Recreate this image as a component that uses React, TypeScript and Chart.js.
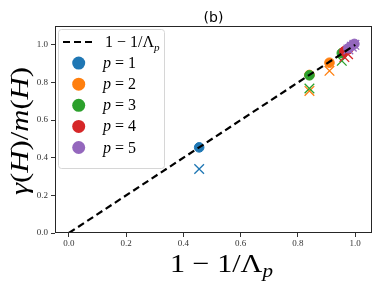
import React, { useEffect, useRef } from 'react';
import { Chart, registerables } from 'chart.js';

Chart.register(...registerables);

const COLORS = ['#1f77b4', '#ff7f0e', '#2ca02c', '#d62728', '#9467bd'];
const P_LABELS = ['1', '2', '3', '4', '5'];

// x = 1 - 1/Λ_p ; circles = γ(H)/m(H) ; crosses = second estimate
const p1X = [0.455];
const p1Circle = [0.455];
const p1Cross = [0.34];
const p2X = [0.84, 0.91];
const p2Circle = [0.84, 0.905];
const p2Cross = [0.755, 0.862];
const p3X = [0.84, 0.953];
const p3Circle = [0.838, 0.956];
const p3Cross = [0.768, 0.915];
const p4X = [0.962, 0.975];
const p4Circle = [0.966, 0.976];
const p4Cross = [0.935, 0.95];
const p5X = [0.976, 0.988, 0.997];
const p5Circle = [0.982, 0.995, 1.005];
const p5Cross = [0.975, 0.99, 1.0];

const lineX = [0, 1];
const xTicks = [0, 0.2, 0.4, 0.6, 0.8, 1.0];
const yTicks = [0, 0.2, 0.4, 0.6, 0.8, 1.0];

const SERIES = [
  { x: p1X, c: p1Circle, k: p1Cross },
  { x: p2X, c: p2Circle, k: p2Cross },
  { x: p3X, c: p3Circle, k: p3Cross },
  { x: p4X, c: p4Circle, k: p4Cross },
  { x: p5X, c: p5Circle, k: p5Cross },
];

const SERIF = '"Liberation Serif", "DejaVu Serif", serif';

type Seg = [string, boolean, number?, number?]; // text, italic, scale, baseline shift (em)

function segFont(size: number, italic: boolean) {
  return `${italic ? 'italic ' : ''}${size}px ${SERIF}`;
}

function measureRich(ctx: CanvasRenderingContext2D, segs: Seg[], size: number) {
  let w = 0;
  for (const s of segs) {
    ctx.font = segFont(size * (s[2] ?? 1), s[1]);
    w += ctx.measureText(s[0]).width;
  }
  return w;
}

function drawRich(ctx: CanvasRenderingContext2D, segs: Seg[], x: number, y: number, size: number) {
  let cx = x;
  ctx.textBaseline = 'alphabetic';
  ctx.textAlign = 'left';
  for (const s of segs) {
    const sz = size * (s[2] ?? 1);
    ctx.font = segFont(sz, s[1]);
    ctx.fillText(s[0], cx, y + (s[3] ?? 0) * size);
    cx += ctx.measureText(s[0]).width;
  }
  return cx;
}

// draw at fixed font size, stretched horizontally to a target width
function drawStretched(ctx: CanvasRenderingContext2D, segs: Seg[], x: number, y: number, size: number, target: number) {
  const w = measureRich(ctx, segs, size);
  ctx.save();
  ctx.translate(x, y);
  ctx.scale(target / w, 1);
  drawRich(ctx, segs, 0, 0, size);
  ctx.restore();
}

const decorPlugin = {
  id: 'decor',
  afterDraw(chart: any) {
    const ctx: CanvasRenderingContext2D = chart.ctx;
    const a = chart.chartArea;
    ctx.save();
    // spines
    ctx.strokeStyle = '#262626';
    ctx.lineWidth = 1;
    ctx.strokeRect(Math.round(a.left) + 0.5, Math.round(a.top) + 0.5, Math.round(a.right - a.left) - 1, Math.round(a.bottom - a.top) - 1);

    // title
    ctx.fillStyle = '#000';
    ctx.font = '14px "DejaVu Sans", sans-serif';
    ctx.textAlign = 'center';
    ctx.textBaseline = 'alphabetic';
    ctx.fillText('(b)', (a.left + a.right) / 2, 22);

    // x label
    const xSegs: Seg[] = [
      ['1 \u2212 1/\u039B', false],
      ['p', true, 0.7, 0.18],
    ];
    ctx.fillStyle = '#000';
    drawStretched(ctx, xSegs, 170, 272, 26, 103);

    // y label
    const ySegs: Seg[] = [
      ['\u03B3', true],
      ['(', false],
      ['H', true],
      [')/', false],
      ['m', true],
      ['(', false],
      ['H', true],
      [')', false],
    ];
    ctx.save();
    ctx.translate(28, 195);
    ctx.rotate(-Math.PI / 2);
    drawStretched(ctx, ySegs, 0, 0, 25, 128);
    ctx.restore();

    // legend
    const lx = 58, ly = 29, lw = 106, lh = 139;
    ctx.beginPath();
    (ctx as any).roundRect(lx + 0.5, ly + 0.5, lw, lh, 3);
    ctx.fillStyle = 'rgba(255,255,255,0.8)';
    ctx.fill();
    ctx.strokeStyle = '#d6d6d6';
    ctx.lineWidth = 1;
    ctx.stroke();

    const rowY0 = 42;
    const step = 21.1;
    // line entry
    ctx.strokeStyle = '#000';
    ctx.lineWidth = 2.2;
    ctx.setLineDash([7, 4]);
    ctx.beginPath();
    ctx.moveTo(63, rowY0);
    ctx.lineTo(94, rowY0);
    ctx.stroke();
    ctx.setLineDash([]);
    ctx.fillStyle = '#000';
    drawRich(ctx, [['1 \u2212 1/\u039B', false], ['p', true, 0.7, 0.22]], 105, rowY0 + 5, 16);

    for (let i = 0; i < 5; i++) {
      const yy = rowY0 + step * (i + 1);
      ctx.beginPath();
      ctx.arc(78.7, yy, 6.5, 0, Math.PI * 2);
      ctx.fillStyle = COLORS[i];
      ctx.fill();
      ctx.fillStyle = '#000';
      drawRich(ctx, [['p', true], [' = ' + P_LABELS[i], false]], 103, yy + 5, 16);
    }
    ctx.restore();
  },
};

export default function App() {
  const ref = useRef<HTMLCanvasElement>(null);
  useEffect(() => {
    if (!ref.current) return;
    const datasets: any[] = [];
    datasets.push({
      type: 'scatter',
      label: '1 - 1/Λp',
      data: lineX.map((v) => ({ x: v, y: v })),
      showLine: true,
      borderColor: '#000',
      borderWidth: 2.2,
      borderDash: [7, 4],
      pointRadius: 0,
      order: 0,
    });
    let ord = 200;
    SERIES.forEach((s, i) => {
      datasets.push({
        type: 'scatter',
        label: 'p = ' + P_LABELS[i] + ' (x)',
        data: s.x.map((v, j) => ({ x: v, y: s.k[j] })),
        pointStyle: 'crossRot',
        pointRadius: 6.8,
        backgroundColor: COLORS[i],
        borderColor: COLORS[i],
        borderWidth: 1.3,
        order: ord--,
      });
      datasets.push({
        type: 'scatter',
        label: 'p = ' + P_LABELS[i],
        data: s.x.map((v, j) => ({ x: v, y: s.c[j] })),
        pointStyle: 'circle',
        pointRadius: 4.8,
        backgroundColor: COLORS[i],
        borderColor: COLORS[i],
        borderWidth: 1,
        order: ord--,
      });
    });

    const tickFont = { family: SERIF, size: 9 };
    const chart = new Chart(ref.current, {
      type: 'scatter',
      data: { datasets },
      options: {
        animation: false,
        responsive: false,
        maintainAspectRatio: false,
        layout: { padding: { top: 26, right: 9, left: 0, bottom: 0 } },
        plugins: { legend: { display: false }, tooltip: { enabled: false }, title: { display: false } },
        scales: {
          x: {
            type: 'linear',
            min: -0.0485,
            max: 1.0585,
            afterFit: (s: any) => { s.height = 53; },
            afterBuildTicks: (s: any) => { s.ticks = xTicks.map((v) => ({ value: v })); },
            ticks: {
              callback: (v: any) => Number(v).toFixed(1),
              font: tickFont,
              color: '#333',
              padding: 1,
              maxRotation: 0,
              autoSkip: false,
            },
            grid: { display: true, drawOnChartArea: false, drawTicks: true, tickLength: 4, color: '#333' },
            border: { display: false },
          },
          y: {
            type: 'linear',
            min: 0,
            max: 1.1,
            afterFit: (s: any) => { s.width = 55; },
            afterBuildTicks: (s: any) => { s.ticks = yTicks.map((v) => ({ value: v })); },
            ticks: {
              callback: (v: any) => Number(v).toFixed(1),
              font: tickFont,
              color: '#333',
              padding: 3,
              autoSkip: false,
            },
            grid: { display: true, drawOnChartArea: false, drawTicks: true, tickLength: 4, color: '#333' },
            border: { display: false },
          },
        },
      } as any,
      plugins: [decorPlugin],
    });
    return () => chart.destroy();
  }, []);

  return (
    <div style={{ position: 'fixed', left: 0, top: 0, width: 381, height: 286, background: '#fff' }}>
      <canvas ref={ref} width={381} height={286} style={{ width: 381, height: 286, display: 'block' }} />
    </div>
  );
}
